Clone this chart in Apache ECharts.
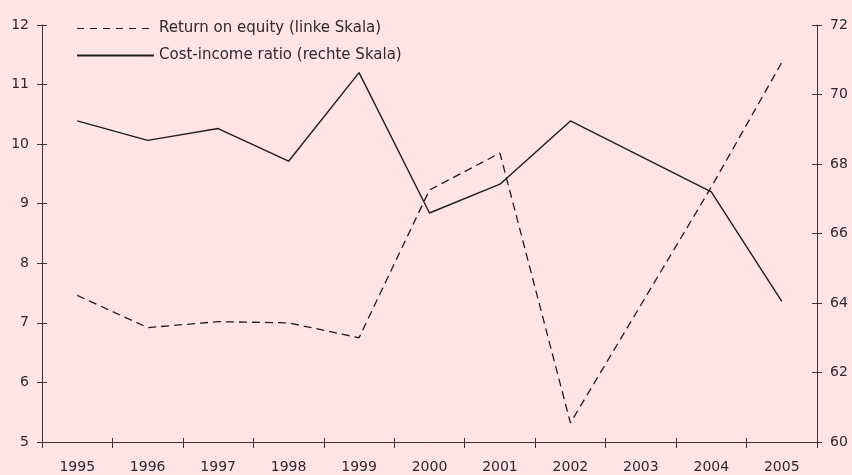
<!DOCTYPE html>
<html>
<head>
<meta charset="utf-8">
<script src="https://cdn.jsdelivr.net/npm/echarts@6/dist/echarts.min.js"></script>
<style>
* { margin: 0; padding: 0; }
html, body { background: #ffe3e5; }
#chart { width: 852px; height: 475px; }
</style>
</head>
<body>
<div id="chart"></div>
<script>
// Jahre
var years = ['1995', '1996', '1997', '1998', '1999', '2000', '2001', '2002', '2003', '2004', '2005']
// Return on equity, linke Skala (%)
var roe = [7.46, 6.92, 7.02, 7.00, 6.75, 9.23, 9.85, 5.32, 7.30, 9.28, 11.37]
// Cost-income ratio, rechte Skala (%)
var cir = [69.24, 68.68, 69.02, 68.08, 70.63, 66.59, 67.42, 69.24, 68.22, 67.20, 64.05]

var font = 'DejaVu Sans'
var ink = '#2e2a2a'
var axisColor = '#3a3636'

// Achse mit Strichen nach aussen, zweite Achse fuer Striche nach innen
function yAx(pos, min, max, step, inside) {
    return {
        type: 'value',
        position: pos,
        min: min,
        max: max,
        interval: step,
        splitLine: { show: false },
        axisLine: { show: !inside, lineStyle: { color: axisColor, width: 1 } },
        axisTick: { show: true, inside: inside, length: 5, lineStyle: { color: axisColor } },
        axisLabel: { show: !inside, margin: 13, color: ink, fontFamily: font, fontSize: 14 }
    }
}
function xAx(inside) {
    return {
        type: 'category',
        data: years,
        position: 'bottom',
        boundaryGap: true,
        axisLine: { show: !inside, onZero: false, lineStyle: { color: axisColor, width: 1 } },
        axisTick: { show: true, inside: inside, length: inside ? 4 : 6, interval: 0, lineStyle: { color: axisColor } },
        axisLabel: { show: !inside, margin: 18, interval: 0, color: ink, fontFamily: font, fontSize: 14 },
        splitLine: { show: false }
    }
}

var chart = echarts.init(document.getElementById('chart'))
chart.setOption({
    backgroundColor: '#ffe3e5',
    animation: false,
    grid: { left: 42, right: 35, top: 25, bottom: 33 },
    legend: {
        orient: 'vertical',
        left: 71,
        top: 16,
        itemWidth: 77,
        itemHeight: 14,
        itemGap: 12,
        itemStyle: { opacity: 0 },
        textStyle: { color: ink, fontFamily: font, fontSize: 15 },
        data: [
            { name: 'Return on equity (linke Skala)', lineStyle: { type: [7, 6], width: 1.2 } },
            { name: 'Cost-income ratio (rechte Skala)' }
        ]
    },
    xAxis: [xAx(false), xAx(true)],
    yAxis: [
        yAx('left', 5, 12, 1, false),
        yAx('left', 5, 12, 1, true),
        yAx('right', 60, 72, 2, false),
        yAx('right', 60, 72, 2, true)
    ],
    series: [
        {
            name: 'Return on equity (linke Skala)',
            type: 'line',
            yAxisIndex: 0,
            data: roe,
            symbol: 'none',
            lineStyle: { color: '#1e1e1e', width: 1.3, type: [8, 5] },
            itemStyle: { color: '#1e1e1e' }
        },
        {
            name: 'Cost-income ratio (rechte Skala)',
            type: 'line',
            yAxisIndex: 2,
            data: cir,
            symbol: 'none',
            lineStyle: { color: '#1e1e1e', width: 1.4, type: 'solid' },
            itemStyle: { color: '#1e1e1e' }
        }
    ]
})
</script>
</body>
</html>
